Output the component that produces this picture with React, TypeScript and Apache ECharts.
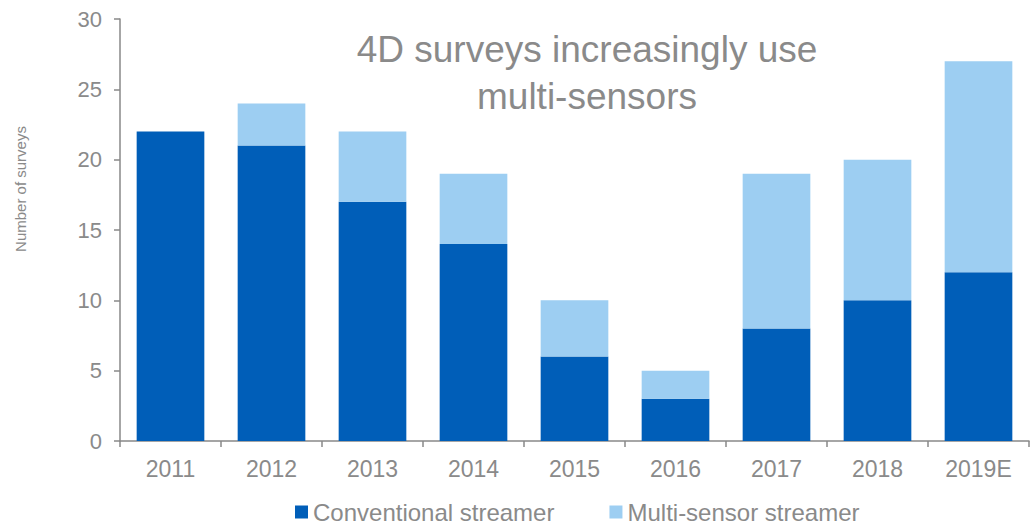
import React, { useEffect, useRef } from "react";
import * as echarts from "echarts";

const categories = ["2011", "2012", "2013", "2014", "2015", "2016", "2017", "2018", "2019E"];
const conventional = [22, 21, 17, 14, 6, 3, 8, 10, 12];
const multiSensor = [0, 3, 5, 5, 4, 2, 11, 10, 15];
const seriesNames = ["Conventional streamer", "Multi-sensor streamer"];
const titleText = "4D surveys increasingly use\nmulti-sensors";
const yAxisName = "Number of surveys";

const FONT = "'Liberation Sans', Arial, sans-serif";
const GRAY = "#888888";
const TEXT = "#8a8a8a";

export default function App() {
  const ref = useRef<HTMLDivElement>(null);
  useEffect(() => {
    if (!ref.current) return;
    const chart = echarts.init(ref.current, null, { renderer: "svg" });
    chart.setOption({
      animation: false,
      textStyle: { fontFamily: FONT },
      grid: { left: 120, right: 7, top: 19, bottom: 83, containLabel: false },
      title: {
        text: titleText,
        left: 587,
        top: 26,
        textAlign: "center",
        padding: 0,
        textStyle: { fontFamily: FONT, fontSize: 37, fontWeight: "normal", color: TEXT, lineHeight: 47 },
      },
      legend: {
        top: 500,
        left: 295,
        padding: 0,
        itemWidth: 13,
        itemHeight: 13,
        itemGap: 55,
        icon: "rect",
        textStyle: { fontFamily: FONT, fontSize: 24, color: TEXT, lineHeight: 24 },
        data: seriesNames,
      },
      graphic: [
        {
          type: "text",
          x: 20,
          y: 189,
          rotation: Math.PI / 2,
          style: {
            text: yAxisName,
            fontFamily: FONT,
            fontSize: 15,
            fill: TEXT,
            align: "center",
            verticalAlign: "middle",
          },
        },
      ],
      xAxis: {
        type: "category",
        data: categories,
        axisLine: { lineStyle: { color: GRAY, width: 1.5 } },
        axisTick: { show: true, length: 6, lineStyle: { color: GRAY, width: 1.5 } },
        axisLabel: { fontFamily: FONT, fontSize: 23, color: TEXT, margin: 16 },
      },
      yAxis: {
        type: "value",
        min: 0,
        max: 30,
        interval: 5,
        splitLine: { show: false },
        axisLine: { show: true, lineStyle: { color: GRAY, width: 1.5 } },
        axisTick: { show: true, length: 6, lineStyle: { color: GRAY, width: 1.5 } },
        axisLabel: { fontFamily: FONT, fontSize: 22, color: TEXT, margin: 18 },
      },
      series: [
        {
          name: seriesNames[0],
          type: "bar",
          stack: "total",
          data: conventional,
          barCategoryGap: "33%",
          itemStyle: { color: "#005EB8" },
        },
        {
          name: seriesNames[1],
          type: "bar",
          stack: "total",
          data: multiSensor,
          barCategoryGap: "33%",
          itemStyle: { color: "#9DCEF2" },
        },
      ],
    });
    return () => chart.dispose();
  }, []);
  return (
    <div
      ref={ref}
      style={{ position: "fixed", left: 0, top: 0, width: 1036, height: 524, background: "#fff" }}
    />
  );
}
